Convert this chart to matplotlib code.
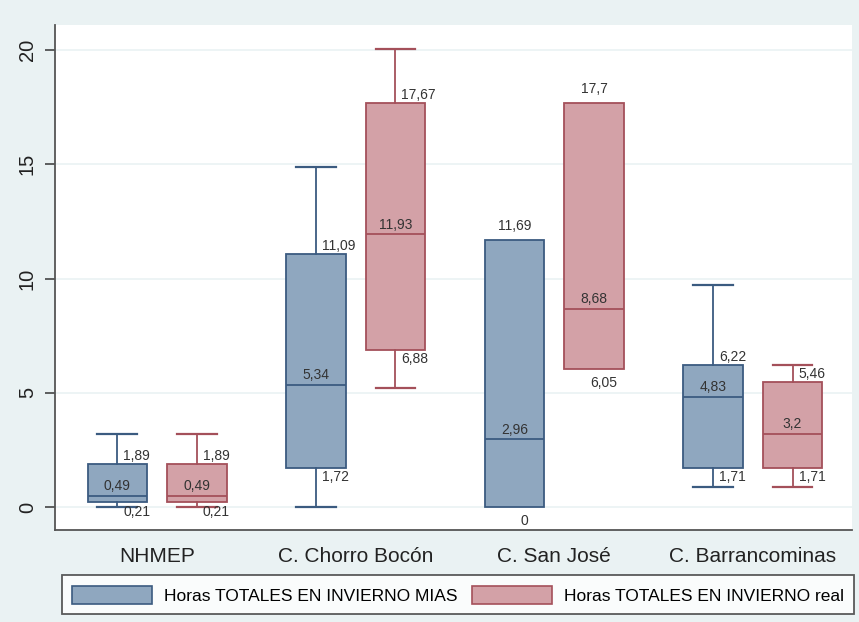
import matplotlib.pyplot as plt
from matplotlib.patches import Patch

plt.rcParams['font.family'] = ['Liberation Sans', 'DejaVu Sans']

# Data ===
groups = ["NHMEP", "C. Chorro Bocón", "C. San José", "C. Barrancominas"]
series = ["Horas TOTALES EN INVIERNO MIAS", "Horas TOTALES EN INVIERNO real"]

mias_whislo = [0, 0, 0, 0.9]
mias_q1 = [0.21, 1.72, 0, 1.71]
mias_med = [0.49, 5.34, 2.96, 4.83]
mias_q3 = [1.89, 11.09, 11.69, 6.22]
mias_whishi = [3.2, 14.9, 11.69, 9.7]

real_whislo = [0, 5.2, 6.05, 0.9]
real_q1 = [0.21, 6.88, 6.05, 1.71]
real_med = [0.49, 11.93, 8.68, 3.2]
real_q3 = [1.89, 17.67, 17.7, 5.46]
real_whishi = [3.2, 20.05, 17.7, 6.22]

yticks = [0, 5, 10, 15, 20]

# Styles ===
bg = "#EAF2F3"
fills = ["#8FA7BF", "#D3A1A7"]
edges = ["#3B5B80", "#A4505A"]
offsets = [-0.2, 0.2]


def fmt(v):
    return f"{v:g}".replace(".", ",")


fig = plt.figure(figsize=(8.59, 6.22), dpi=100, facecolor=bg)
ax = fig.add_axes([0.064, 0.148, 0.928, 0.812])
ax.set_facecolor("white")

all_stats = [
    (mias_whislo, mias_q1, mias_med, mias_q3, mias_whishi),
    (real_whislo, real_q1, real_med, real_q3, real_whishi),
]

for s, (wlo, q1, med, q3, whi) in enumerate(all_stats):
    stats = []
    pos = []
    for g in range(len(groups)):
        stats.append(dict(whislo=wlo[g], q1=q1[g], med=med[g], q3=q3[g],
                          whishi=whi[g], fliers=[]))
        pos.append(g + offsets[s])
    ec = edges[s]
    art = ax.bxp(stats, positions=pos, widths=0.3, capwidths=0.2, patch_artist=True,
                 showfliers=False,
                 boxprops=dict(facecolor=fills[s], edgecolor=ec, linewidth=1.3),
                 medianprops=dict(color=ec, linewidth=1.3),
                 whiskerprops=dict(color=ec, linewidth=1.3),
                 capprops=dict(color=ec, linewidth=1.6))
    # no caps where the whisker has zero length (Stata draws none)
    for g in range(len(groups)):
        if wlo[g] >= q1[g]:
            art["caps"][2 * g].set_visible(False)
        if whi[g] <= q3[g]:
            art["caps"][2 * g + 1].set_visible(False)

    # value labels
    for g, x in enumerate(pos):
        tk = dict(fontsize=10, color="#333333")
        ax.text(x, med[g] + 0.12, fmt(med[g]), ha="center", va="bottom", **tk)
        if whi[g] > q3[g]:
            ax.text(x + 0.03, q3[g] + 0.05, fmt(q3[g]), ha="left", va="bottom", **tk)
        else:
            ax.text(x, q3[g] + 0.3, fmt(q3[g]), ha="center", va="bottom", **tk)
        if wlo[g] < q1[g]:
            ax.text(x + 0.03, q1[g] - 0.1, fmt(q1[g]), ha="left", va="top", **tk)
        else:
            ax.text(x + 0.05, q1[g] - 0.3, fmt(q1[g]), ha="center", va="top", **tk)

ax.set_xlim(-0.514, 3.50)
ax.set_ylim(-1.0, 21.1)
ax.set_xticks(range(len(groups)))
ax.set_xticklabels(groups, fontsize=15, color="#222222")
ax.tick_params(axis="x", length=0, pad=12)
ax.set_yticks(yticks)
ax.set_yticklabels([str(t) for t in yticks], rotation=90, va="center",
                   fontsize=14.5, color="#222222")
ax.tick_params(axis="y", length=7, width=1.2, color="#444444", pad=6)
ax.yaxis.grid(True, color=bg, linewidth=1.2)
ax.set_axisbelow(True)
for side in ["top", "right"]:
    ax.spines[side].set_visible(False)
for side in ["left", "bottom"]:
    ax.spines[side].set_color("#555555")
    ax.spines[side].set_linewidth(1.3)

handles = [Patch(facecolor=fills[i], edgecolor=edges[i], linewidth=1.2, label=series[i])
           for i in range(2)]
leg = fig.legend(handles=handles, ncol=2, loc="lower left",
                 bbox_to_anchor=(62 / 859, 1 - 614 / 622), fontsize=12.5,
                 frameon=True, fancybox=False, edgecolor="#333333",
                 handlelength=4.6, handleheight=1.2, handletextpad=0.7,
                 columnspacing=0.8, borderpad=0.6, borderaxespad=0)
leg.get_frame().set_linewidth(1.3)
leg.get_frame().set_facecolor("white")

plt.savefig("out.png", dpi=100, facecolor=bg)
